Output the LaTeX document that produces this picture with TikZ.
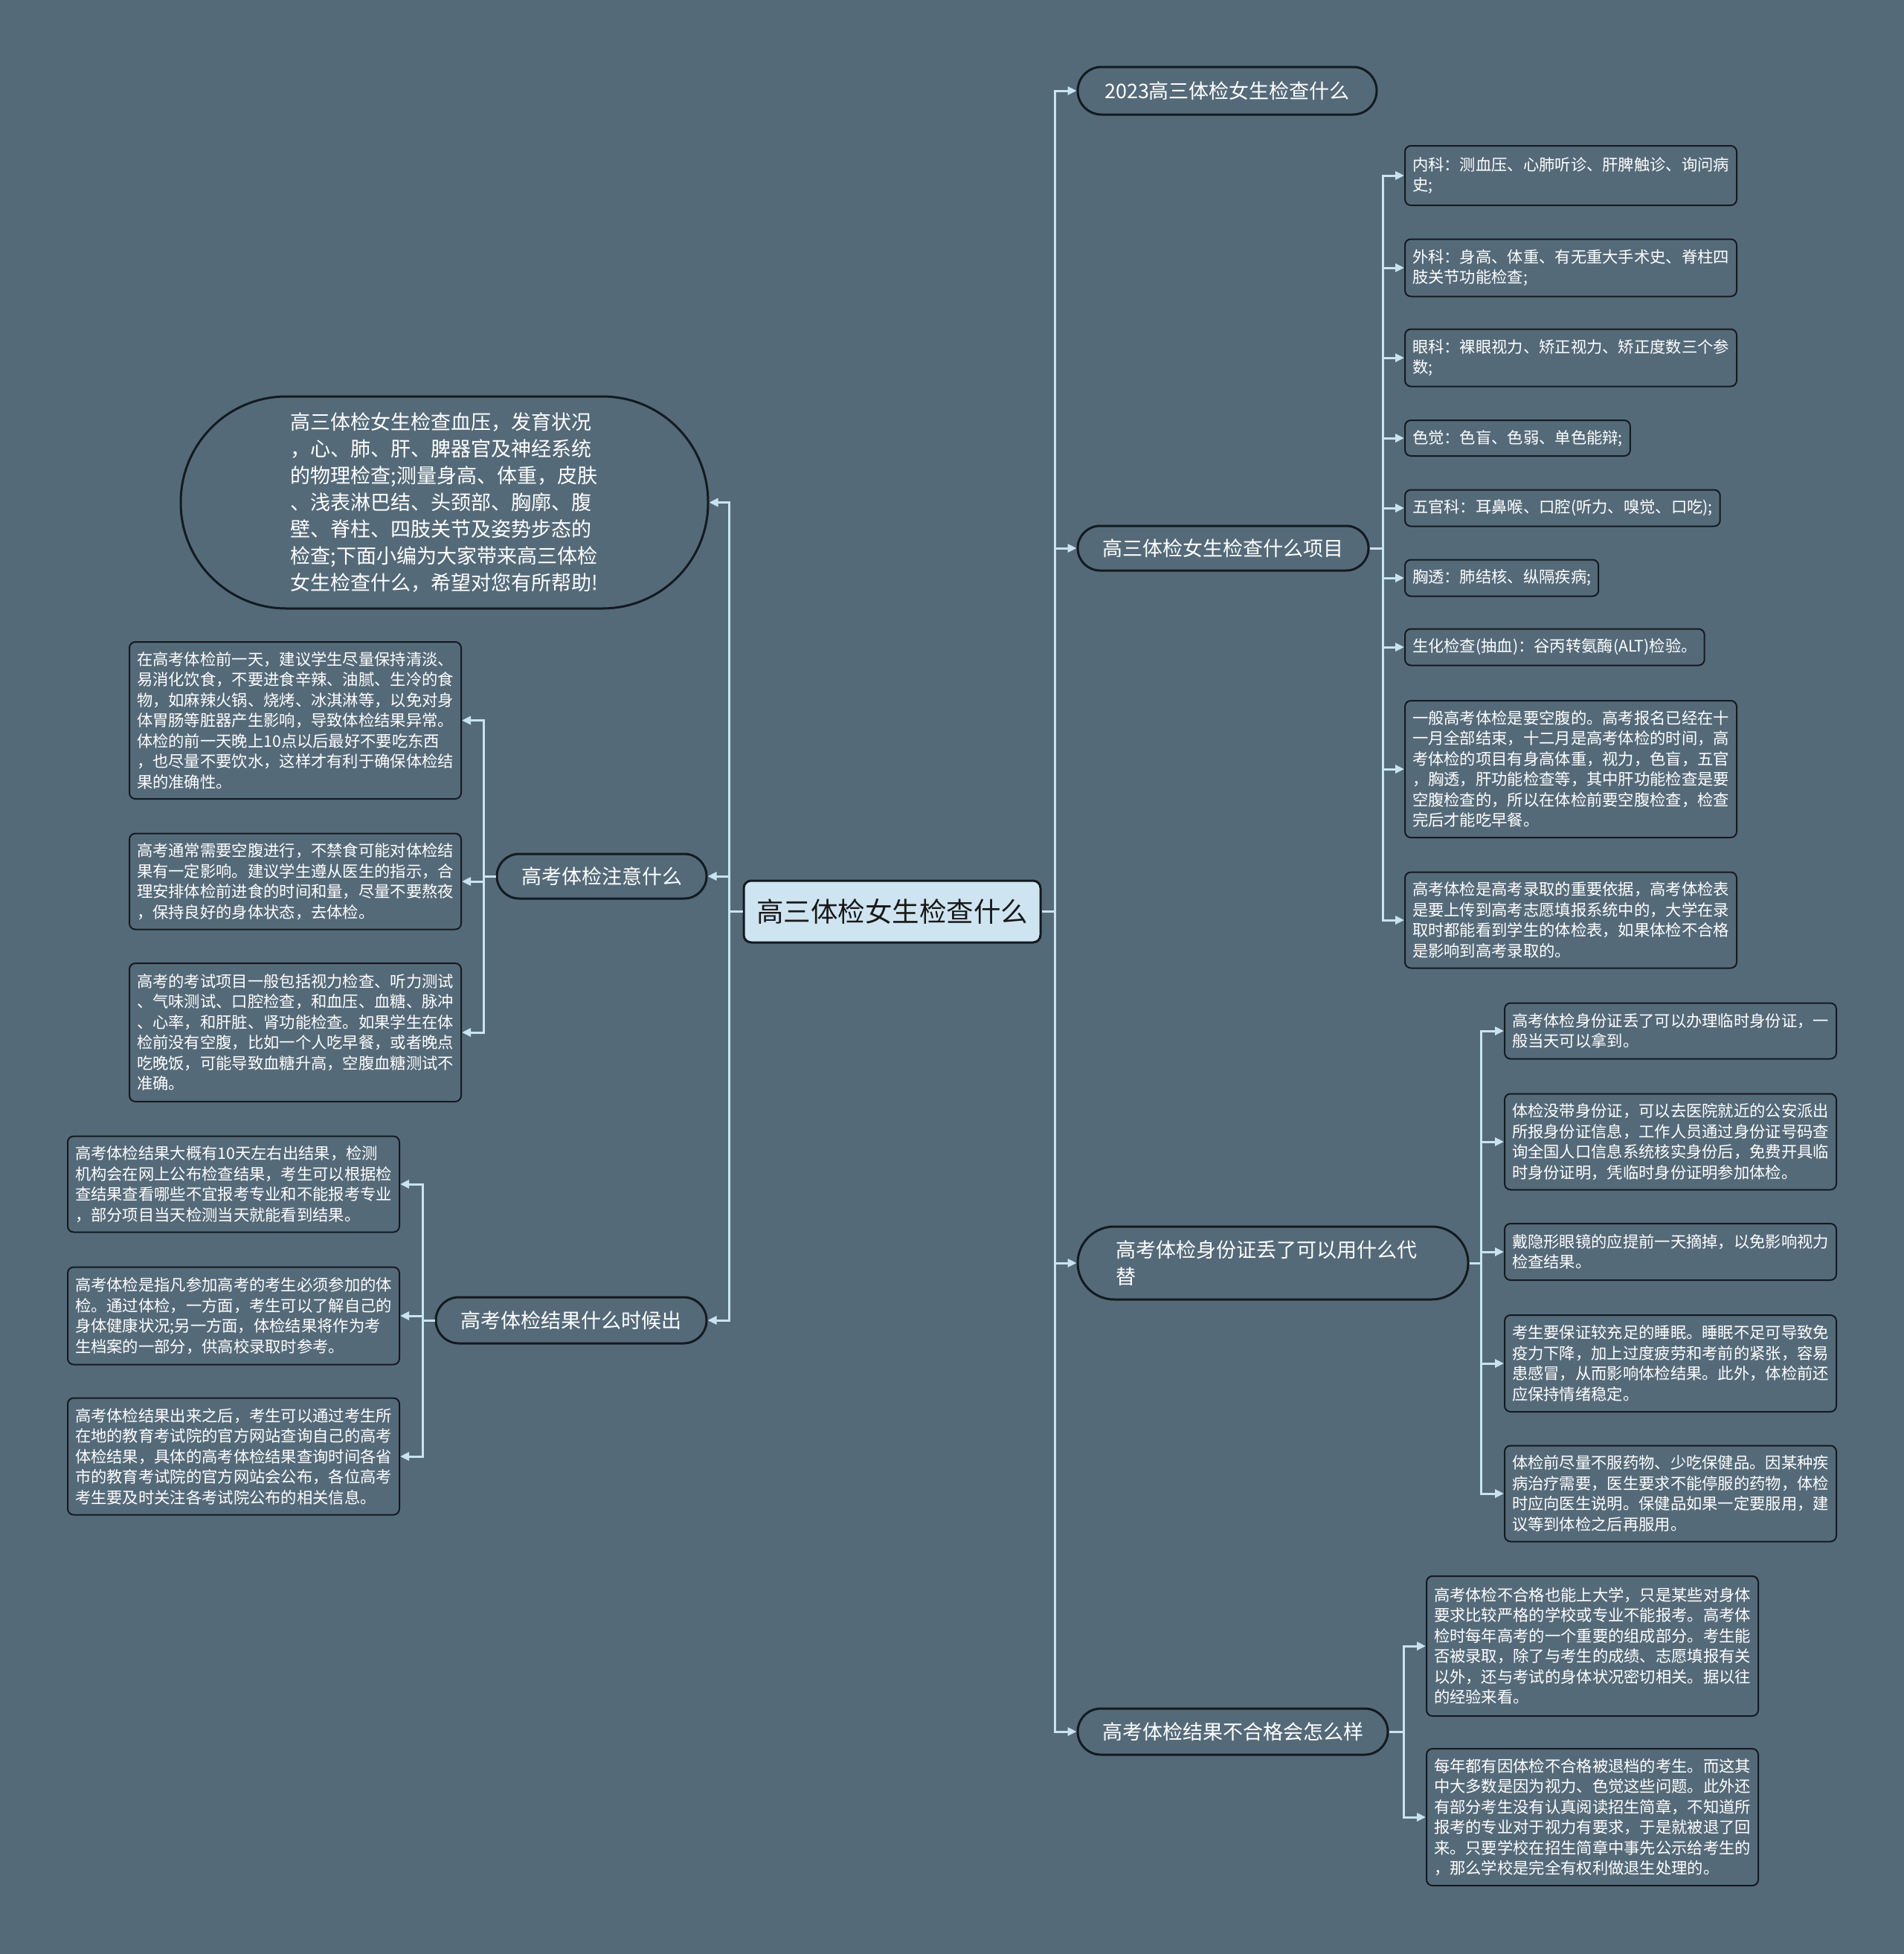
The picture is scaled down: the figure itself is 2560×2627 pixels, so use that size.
\documentclass[tikz,border=0pt]{standalone}
\usepackage{fontspec}
\setmainfont{Noto Sans CJK SC}
\usetikzlibrary{arrows.meta}
\definecolor{bg}{RGB}{85,106,121}
\definecolor{ln}{RGB}{200,228,242}
\definecolor{rootfill}{RGB}{206,228,241}
\definecolor{bd}{RGB}{20,26,32}
\tikzset{
  branch/.style={draw=bd, line width=3pt, fill=bg, text=white, font=\fontsize{27}{36}\selectfont, align=center, inner sep=0pt},
  leaf/.style={draw=bd, line width=2pt, rounded corners=8pt, fill=bg, text=white, font=\fontsize{21.3}{27.5}\selectfont, align=left, inner xsep=10pt, inner ysep=6pt, anchor=west},
  leafw/.style={leaf, text width=426pt},
  conn/.style={draw=ln, line width=3pt, -{Triangle[length=12pt,width=11pt]}}
}
\begin{document}
\begin{tikzpicture}[x=1pt,y=-1pt]
\useasboundingbox (0,0) rectangle (2560,2627);
\fill[bg] (0,0) rectangle (2560,2627);

% root
\node[draw=bd, line width=3pt, fill=rootfill, rounded corners=10pt, text=black!90, font=\fontsize{36.5}{44}\selectfont, minimum width=399pt, minimum height=83pt, inner sep=0pt] (root) at (1199.5,1225.5) {高三体检女生检查什么};

% right branches
\node[branch, rounded corners=32pt, minimum width=402pt, minimum height=64pt] (B1) at (1650,122) {2023高三体检女生检查什么};
\node[branch, rounded corners=30pt, minimum width=391pt, minimum height=60pt] (B2) at (1644.5,737) {高三体检女生检查什么项目};
\node[branch, rounded corners=49pt, minimum width=525pt, minimum height=98pt, text width=423pt, align=left] (B3) at (1711.5,1698) {高考体检身份证丢了可以用什么代\\替};
\node[branch, rounded corners=31pt, minimum width=417pt, minimum height=62pt] (B4) at (1657.5,2328) {高考体检结果不合格会怎么样};

% left branches
\node[branch, rounded corners=142pt, minimum width=709pt, minimum height=285pt, align=left] (BL1) at (597.5,675.5) {高三体检女生检查血压，发育状况\\，心、肺、肝、脾器官及神经系统\\的物理检查;测量身高、体重，皮肤\\、浅表淋巴结、头颈部、胸廓、腹\\壁、脊柱、四肢关节及姿势步态的\\检查;下面小编为大家带来高三体检\\女生检查什么，希望对您有所帮助!};
\node[branch, rounded corners=30pt, minimum width=282pt, minimum height=60pt] (BL2) at (809,1178) {高考体检注意什么};
\node[branch, rounded corners=31pt, minimum width=364pt, minimum height=62pt] (BL3) at (768,1775) {高考体检结果什么时候出};

% leaves of BL2
\node[leafw, minimum height=211pt] (L2a) at (173,968.5) {在高考体检前一天，建议学生尽量保持清淡、\\易消化饮食，不要进食辛辣、油腻、生冷的食\\物，如麻辣火锅、烧烤、冰淇淋等，以免对身\\体胃肠等脏器产生影响，导致体检结果异常。\\体检的前一天晚上10点以后最好不要吃东西\\，也尽量不要饮水，这样才有利于确保体检结\\果的准确性。};
\node[leafw, minimum height=129pt] (L2b) at (173,1185) {高考通常需要空腹进行，不禁食可能对体检结\\果有一定影响。建议学生遵从医生的指示，合\\理安排体检前进食的时间和量，尽量不要熬夜\\，保持良好的身体状态，去体检。};
\node[leafw, minimum height=186pt] (L2c) at (173,1388) {高考的考试项目一般包括视力检查、听力测试\\、气味测试、口腔检查，和血压、血糖、脉冲\\、心率，和肝脏、肾功能检查。如果学生在体\\检前没有空腹，比如一个人吃早餐，或者晚点\\吃晚饭，可能导致血糖升高，空腹血糖测试不\\准确。};

% leaves of BL3
\node[leafw, minimum height=129pt] (L3a) at (90,1592) {高考体检结果大概有10天左右出结果，检测\\机构会在网上公布检查结果，考生可以根据检\\查结果查看哪些不宜报考专业和不能报考专业\\，部分项目当天检测当天就能看到结果。};
\node[leafw, minimum height=131pt] (L3b) at (90,1769) {高考体检是指凡参加高考的考生必须参加的体\\检。通过体检，一方面，考生可以了解自己的\\身体健康状况;另一方面，体检结果将作为考\\生档案的一部分，供高校录取时参考。};
\node[leafw, minimum height=157pt] (L3c) at (90,1958) {高考体检结果出来之后，考生可以通过考生所\\在地的教育考试院的官方网站查询自己的高考\\体检结果，具体的高考体检结果查询时间各省\\市的教育考试院的官方网站会公布，各位高考\\考生要及时关注各考试院公布的相关信息。};

% leaves of B2
\node[leafw, minimum height=80pt] (R2a) at (1888,236) {内科：测血压、心肺听诊、肝脾触诊、询问病\\史;};
\node[leafw, minimum height=77pt] (R2b) at (1888,360) {外科：身高、体重、有无重大手术史、脊柱四\\肢关节功能检查;};
\node[leafw, minimum height=77pt] (R2c) at (1888,481) {眼科：裸眼视力、矫正视力、矫正度数三个参\\数;};
\node[leaf, minimum height=48pt] (R2d) at (1888,589) {色觉：色盲、色弱、单色能辩;};
\node[leaf, minimum height=49pt] (R2e) at (1888,683) {五官科：耳鼻喉、口腔(听力、嗅觉、口吃);};
\node[leaf, minimum height=49pt] (R2f) at (1888,777) {胸透：肺结核、纵隔疾病;};
\node[leaf, minimum height=49pt] (R2g) at (1888,870) {生化检查(抽血)：谷丙转氨酶(ALT)检验。};
\node[leafw, minimum height=184pt] (R2h) at (1888,1034) {一般高考体检是要空腹的。高考报名已经在十\\一月全部结束，十二月是高考体检的时间，高\\考体检的项目有身高体重，视力，色盲，五官\\，胸透，肝功能检查等，其中肝功能检查是要\\空腹检查的，所以在体检前要空腹检查，检查\\完后才能吃早餐。};
\node[leafw, minimum height=129pt] (R2i) at (1888,1237) {高考体检是高考录取的重要依据，高考体检表\\是要上传到高考志愿填报系统中的，大学在录\\取时都能看到学生的体检表，如果体检不合格\\是影响到高考录取的。};

% leaves of B3
\node[leafw, minimum height=75pt] (R3a) at (2022,1386) {高考体检身份证丢了可以办理临时身份证，一\\般当天可以拿到。};
\node[leafw, minimum height=129pt] (R3b) at (2022,1535) {体检没带身份证，可以去医院就近的公安派出\\所报身份证信息，工作人员通过身份证号码查\\询全国人口信息系统核实身份后，免费开具临\\时身份证明，凭临时身份证明参加体检。};
\node[leafw, minimum height=76pt] (R3c) at (2022,1683) {戴隐形眼镜的应提前一天摘掉，以免影响视力\\检查结果。};
\node[leafw, minimum height=130pt] (R3d) at (2022,1833) {考生要保证较充足的睡眠。睡眠不足可导致免\\疫力下降，加上过度疲劳和考前的紧张，容易\\患感冒，从而影响体检结果。此外，体检前还\\应保持情绪稳定。};
\node[leafw, minimum height=129pt] (R3e) at (2022,2008) {体检前尽量不服药物、少吃保健品。因某种疾\\病治疗需要，医生要求不能停服的药物，体检\\时应向医生说明。保健品如果一定要服用，建\\议等到体检之后再服用。};

% leaves of B4
\node[leafw, minimum height=188pt] (R4a) at (1917,2213) {高考体检不合格也能上大学，只是某些对身体\\要求比较严格的学校或专业不能报考。高考体\\检时每年高考的一个重要的组成部分。考生能\\否被录取，除了与考生的成绩、志愿填报有关\\以外，还与考试的身体状况密切相关。据以往\\的经验来看。};
\node[leafw, minimum height=184pt] (R4b) at (1917,2443) {每年都有因体检不合格被退档的考生。而这其\\中大多数是因为视力、色觉这些问题。此外还\\有部分考生没有认真阅读招生简章，不知道所\\报考的专业对于视力有要求，于是就被退了回\\来。只要学校在招生简章中事先公示给考生的\\，那么学校是完全有权利做退生处理的。};

% connectors root -> branches
\foreach \n in {B1,B2,B3,B4}
  \draw[conn] (root.east) -- ++(18,0) |- (\n.west);
\foreach \n in {BL1,BL2,BL3}
  \draw[conn] (root.west) -- ++(-18,0) |- (\n.east);
% branches -> leaves
\foreach \n in {R2a,R2b,R2c,R2d,R2e,R2f,R2g,R2h,R2i}
  \draw[conn] (B2.east) -- ++(18,0) |- (\n.west);
\foreach \n in {R3a,R3b,R3c,R3d,R3e}
  \draw[conn] (B3.east) -- ++(16,0) |- (\n.west);
\foreach \n in {R4a,R4b}
  \draw[conn] (B4.east) -- ++(20,0) |- (\n.west);
\foreach \n in {L2a,L2b,L2c}
  \draw[conn] (BL2.west) -- ++(-16,0) |- (\n.east);
\foreach \n in {L3a,L3b,L3c}
  \draw[conn] (BL3.west) -- ++(-16,0) |- (\n.east);
\end{tikzpicture}
\end{document}
